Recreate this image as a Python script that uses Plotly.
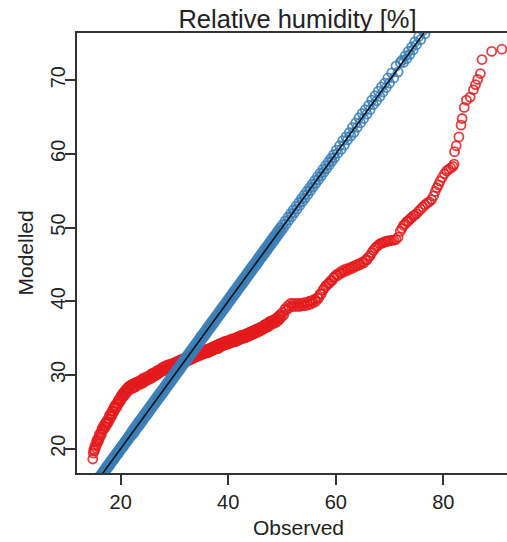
import plotly.graph_objects as go

# Observed quantiles (shared x of both QQ series)
observed = [
    14.8, 14.9, 15.0, 15.1, 15.2, 15.3, 15.5, 15.6, 15.7, 15.9,
    16.0, 16.1, 16.3, 16.4, 16.5, 16.7, 16.8, 16.9, 17.1, 17.2,
    17.3, 17.5, 17.6, 17.7, 17.9, 18.0, 18.1, 18.3, 18.4, 18.5,
    18.7, 18.8, 18.9, 19.1, 19.2, 19.3, 19.5, 19.6, 19.7, 19.9,
    20.0, 20.1, 20.3, 20.4, 20.5, 20.7, 20.8, 20.9, 21.1, 21.2,
    21.3, 21.5, 21.6, 21.7, 21.9,
    22.0, 22.2, 22.3, 22.5, 22.6, 22.8, 22.9, 23.1, 23.2, 23.4,
    23.5, 23.7, 23.8, 24.0, 24.1, 24.3, 24.4, 24.6, 24.7, 24.9,
    25.0, 25.2, 25.3, 25.5, 25.6, 25.8, 25.9, 26.1, 26.2, 26.4,
    26.5, 26.7, 26.8, 27.0, 27.1, 27.3, 27.4, 27.6, 27.7, 27.9,
    28.0, 28.2, 28.3, 28.5, 28.6, 28.8, 28.9, 29.1, 29.2, 29.4,
    29.5, 29.7, 29.8, 30.0, 30.1, 30.3, 30.4, 30.6, 30.7, 30.9,
    31.0, 31.2, 31.3, 31.5, 31.6, 31.8, 31.9, 32.1, 32.2, 32.4,
    32.5, 32.7, 32.8, 33.0, 33.1, 33.3, 33.4, 33.6, 33.7, 33.9,
    34.0, 34.2, 34.3, 34.5, 34.6, 34.8, 34.9,
    35.0, 35.2, 35.3, 35.5, 35.6, 35.8, 35.9, 36.1, 36.2, 36.4,
    36.5, 36.7, 36.8, 37.0, 37.1, 37.3, 37.4, 37.6, 37.7, 37.9,
    38.0, 38.2, 38.3, 38.5, 38.6, 38.8, 38.9, 39.1, 39.2, 39.4,
    39.5, 39.7, 39.8, 40.0, 40.1, 40.3, 40.4, 40.6, 40.7, 40.9,
    41.0, 41.2, 41.3, 41.5, 41.6, 41.8, 41.9, 42.1, 42.2, 42.4,
    42.5, 42.7, 42.8, 43.0, 43.1, 43.3, 43.4, 43.6, 43.7, 43.9,
    44.0, 44.2, 44.3, 44.5, 44.6, 44.8, 44.9, 45.1, 45.2, 45.4,
    45.5, 45.7, 45.8, 46.0, 46.1, 46.3, 46.4, 46.6, 46.7, 46.9,
    47.0, 47.2, 47.3, 47.5, 47.6, 47.8, 47.9, 48.1, 48.2, 48.4,
    48.5, 48.7, 48.8, 49.0, 49.1, 49.3, 49.4, 49.6, 49.7, 49.9,
    50.1, 50.3, 50.6, 50.8, 51.1, 51.3, 51.6, 51.8, 52.1, 52.3,
    52.6, 52.8, 53.1, 53.3, 53.6, 53.8, 54.1, 54.3, 54.6, 54.8,
    55.1, 55.3, 55.6, 55.8, 56.1, 56.3, 56.6, 56.8, 57.1, 57.3,
    57.6, 57.8, 58.1, 58.3, 58.6, 58.8, 59.1, 59.3, 59.6, 59.8,
    60.1, 60.4, 60.7, 61.0, 61.3, 61.6, 61.9, 62.2, 62.5, 62.8,
    63.1, 63.4, 63.7, 64.0, 64.3, 64.6, 64.9, 65.2, 65.5, 65.8,
    66.1, 66.4, 66.7, 67.0, 67.3, 67.6, 67.9, 68.2, 68.5, 68.8,
    69.1, 69.4, 69.7, 70.0, 70.4, 70.8, 71.2, 71.6, 72.0,
    72.3, 72.6, 72.9, 73.2, 73.5, 73.8, 74.1, 74.4, 74.7, 75.0,
    75.4, 75.8, 76.2, 76.6, 77.0, 77.4, 77.8, 78.2, 78.5, 78.8,
    79.1, 79.4, 79.8, 80.2, 80.6, 81.0, 81.4, 81.8,
    82.0, 82.1, 82.4, 82.9, 83.3, 83.5, 83.9, 84.3, 85.0, 85.6,
    86.0, 86.4, 86.9, 87.2, 89.0, 90.9,
]

# Raw model quantiles (red)
modelled_raw = [
    18.6, 19.4, 19.9, 19.7, 20.4, 20.1, 21.0, 20.6, 21.3, 21.1,
    21.9, 21.5, 22.2, 21.9, 22.7, 22.5, 23.1, 22.7, 23.4, 23.0,
    23.6, 23.4, 24.0, 23.6, 24.5, 24.0, 24.7, 24.4, 25.1, 24.7,
    25.5, 25.1, 25.8, 25.5, 26.1, 25.7, 26.5, 26.1, 26.7, 26.4,
    27.1, 26.7, 27.4, 27.0, 27.6, 27.2, 27.9, 27.5, 28.1, 27.7,
    28.3, 27.9, 28.5, 28.1, 28.6,
    28.7, 28.2, 28.8, 28.3, 28.9, 28.4, 29.0, 28.6, 29.1, 28.7,
    29.2, 28.8, 29.3, 28.9, 29.5, 29.0, 29.6, 29.2, 29.7, 29.3,
    29.8, 29.4, 29.9, 29.5, 30.1, 29.6, 30.2, 29.8, 30.3, 29.9,
    30.4, 30.0, 30.6, 30.2, 30.7, 30.3, 30.8, 30.5, 31.0, 30.6,
    31.1, 30.6, 31.2, 30.8, 31.3, 30.9, 31.4, 31.0, 31.4, 31.0,
    31.5, 31.1, 31.6, 31.2, 31.7, 31.3, 31.8, 31.4, 31.9, 31.5,
    32.0, 31.5, 32.1, 31.7, 32.2, 31.8, 32.2, 31.9, 32.3, 31.9,
    32.4, 32.0, 32.5, 32.1, 32.6, 32.2, 32.7, 32.3, 32.8, 32.4,
    32.9, 32.5, 33.0, 32.6, 33.1, 32.7, 33.2,
    33.2, 32.8, 33.3, 32.9, 33.4, 33.0, 33.4, 33.0, 33.5, 33.1,
    33.6, 33.2, 33.7, 33.3, 33.8, 33.4, 33.9, 33.5, 34.0, 33.6,
    34.1, 33.6, 34.2, 33.8, 34.3, 33.9, 34.4, 34.0, 34.5, 34.1,
    34.6, 34.2, 34.6, 34.2, 34.7, 34.3, 34.8, 34.4, 34.9, 34.5,
    34.9, 34.5, 35.0, 34.6, 35.1, 34.7, 35.2, 34.8, 35.3, 34.9,
    35.4, 35.0, 35.4, 35.0, 35.5, 35.1, 35.6, 35.2, 35.7, 35.3,
    35.8, 35.4, 35.9, 35.5, 36.0, 35.6, 36.1, 35.7, 36.2, 35.8,
    36.3, 35.9, 36.4, 36.0, 36.5, 36.1, 36.6, 36.3, 36.8, 36.4,
    36.9, 36.5, 37.0, 36.6, 37.2, 36.8, 37.3, 36.9, 37.4, 37.0,
    37.5, 37.1, 37.6, 37.2, 37.8, 37.4, 38.0, 37.6, 38.2, 37.9,
    38.5, 38.1, 39.0, 38.8, 39.4, 39.1, 39.7, 39.3, 39.7, 39.3,
    39.7, 39.3, 39.7, 39.3, 39.7, 39.4, 39.8, 39.4, 39.8, 39.5,
    40.0, 39.6, 40.1, 39.8, 40.3, 40.0, 40.5, 40.4, 41.0, 41.0,
    41.5, 41.7, 42.0, 42.2, 42.4, 42.5, 42.8, 42.8, 43.2, 43.3,
    43.6, 43.5, 43.9, 43.8, 44.2, 44.0, 44.4, 44.2, 44.5, 44.4,
    44.7, 44.6, 44.9, 44.8, 45.1, 45.0, 45.3, 45.2, 45.6, 45.6,
    46.0, 46.2, 46.6, 46.9, 47.2, 47.4, 47.6, 47.8, 47.9, 47.9,
    48.1, 48.1, 48.2, 48.2, 48.3, 48.3, 48.4, 48.7, 49.5,
    49.9, 50.3, 50.5, 50.8, 50.9, 51.2, 51.3, 51.6, 51.7, 51.9,
    52.2, 52.5, 52.8, 53.1, 53.3, 53.5, 53.8, 54.3, 54.9, 55.4,
    55.8, 56.3, 56.8, 57.3, 57.7, 57.9, 58.1, 58.3,
    58.6, 60.3, 61.1, 62.3, 63.9, 64.8, 66.3, 67.3, 67.7, 68.7,
    69.4, 70.1, 70.9, 72.8, 73.9, 74.2,
]

# Bias-corrected model quantiles (blue)
modelled_corrected = [
    14.5, 15.1, 14.8, 15.3, 15.0, 15.5, 15.3, 15.8, 15.5, 16.1,
    15.8, 16.3, 16.1, 16.6, 16.3, 16.9, 16.6, 17.1, 16.9, 17.4,
    17.1, 17.7, 17.4, 17.9, 17.7, 18.2, 17.9, 18.5, 18.2, 18.7,
    18.5, 19.0, 18.7, 19.3, 19.0, 19.5, 19.3, 19.8, 19.5, 20.1,
    19.8, 20.3, 20.1, 20.6, 20.3, 20.9, 20.6, 21.1, 20.9, 21.4,
    21.1, 21.7, 21.4, 21.9, 21.7,
    22.3, 21.9, 22.6, 22.2, 22.9, 22.5, 23.2, 22.8, 23.5, 23.1,
    23.8, 23.4, 24.1, 23.7, 24.4, 24.0, 24.7, 24.3, 25.0, 24.6,
    25.3, 24.9, 25.6, 25.2, 25.9, 25.5, 26.2, 25.8, 26.5, 26.1,
    26.8, 26.4, 27.1, 26.7, 27.4, 27.0, 27.7, 27.3, 28.0, 27.6,
    28.3, 27.9, 28.6, 28.2, 28.9, 28.5, 29.2, 28.8, 29.5, 29.1,
    29.8, 29.4, 30.1, 29.7, 30.4, 30.0, 30.7, 30.3, 31.0, 30.6,
    31.3, 30.9, 31.6, 31.2, 31.9, 31.5, 32.2, 31.8, 32.5, 32.1,
    32.8, 32.4, 33.1, 32.7, 33.4, 33.0, 33.7, 33.3, 34.0, 33.6,
    34.3, 33.9, 34.6, 34.2, 34.9, 34.5, 35.2,
    35.3, 34.9, 35.6, 35.2, 35.9, 35.5, 36.2, 35.8, 36.5, 36.1,
    36.8, 36.4, 37.1, 36.7, 37.4, 37.0, 37.7, 37.3, 38.0, 37.6,
    38.3, 37.9, 38.6, 38.2, 38.9, 38.5, 39.2, 38.8, 39.5, 39.1,
    39.8, 39.4, 40.1, 39.7, 40.4, 40.0, 40.7, 40.3, 41.0, 40.6,
    41.3, 40.9, 41.6, 41.2, 41.9, 41.5, 42.2, 41.8, 42.5, 42.1,
    42.8, 42.4, 43.1, 42.7, 43.4, 43.0, 43.7, 43.3, 44.0, 43.6,
    44.3, 43.9, 44.6, 44.2, 44.9, 44.5, 45.2, 44.8, 45.5, 45.1,
    45.8, 45.4, 46.1, 45.7, 46.4, 46.0, 46.7, 46.3, 47.0, 46.6,
    47.3, 46.9, 47.6, 47.2, 47.9, 47.5, 48.2, 47.8, 48.5, 48.1,
    48.8, 48.4, 49.1, 48.7, 49.4, 49.0, 49.7, 49.3, 50.0, 49.6,
    50.4, 50.0, 50.9, 50.5, 51.4, 51.0, 51.9, 51.5, 52.4, 52.0,
    52.9, 52.5, 53.4, 53.0, 53.9, 53.5, 54.4, 54.0, 54.9, 54.5,
    55.4, 55.0, 55.9, 55.5, 56.4, 56.0, 56.9, 56.5, 57.4, 57.0,
    57.9, 57.5, 58.4, 58.0, 58.9, 58.5, 59.4, 59.0, 59.9, 59.5,
    60.5, 60.1, 61.1, 60.6, 61.8, 61.2, 62.3, 61.9, 62.9, 62.4,
    63.6, 62.9, 64.2, 63.6, 64.9, 64.2, 65.5, 64.8, 66.0, 65.4,
    66.6, 66.0, 67.3, 66.7, 67.9, 67.2, 68.5, 67.8, 69.1, 68.4,
    69.6, 69.0, 70.3, 69.6, 71.0, 70.3, 71.9, 71.1, 72.4,
    72.7, 72.4, 73.3, 72.9, 73.9, 73.5, 74.5, 74.1, 75.2, 74.8,
    75.9, 75.5, 76.7, 76.3, 77.4, 77.1, 78.2, 77.9, 78.8, 78.6,
    79.4, 79.1, 80.2, 79.9, 80.9, 81.2, 81.6, 82.0,
    82.1, 82.3, 82.6, 83.1, 83.5, 83.6, 84.1, 84.5, 85.2, 85.7,
    86.1, 86.6, 87.0, 87.3, 89.2, 91.0,
]

one_to_one = [0, 100]
x_ticks = [20, 40, 60, 80]
y_ticks = [20, 30, 40, 50, 60, 70]

assert len(observed) == len(modelled_raw) == len(modelled_corrected), (
    len(observed), len(modelled_raw), len(modelled_corrected))

FONT = "Liberation Sans, Arial, Helvetica, sans-serif"
AX = "#333333"
TXT = "#222222"

fig = go.Figure()
fig.add_trace(go.Scatter(
    x=observed, y=modelled_raw, mode="markers",
    marker=dict(symbol="circle-open", size=9, color="rgba(228,26,28,0.85)",
                line=dict(width=1.8, color="rgba(228,26,28,0.85)")),
    showlegend=False, hoverinfo="skip"))
fig.add_trace(go.Scatter(
    x=observed, y=modelled_corrected, mode="markers",
    marker=dict(symbol="circle-open", size=9, color="rgba(55,126,184,0.85)",
                line=dict(width=1.8, color="rgba(55,126,184,0.85)")),
    showlegend=False, hoverinfo="skip"))
fig.add_trace(go.Scatter(
    x=one_to_one, y=one_to_one, mode="lines",
    line=dict(color="#111111", width=1.6),
    showlegend=False, hoverinfo="skip"))

fig.update_layout(
    width=507, height=542,
    margin=dict(l=77, r=0, t=33, b=69),
    paper_bgcolor="white", plot_bgcolor="white",
    font=dict(family=FONT, color=TXT),
    title=dict(text="Relative humidity [%]", font=dict(size=25.5, family=FONT, color=TXT),
               x=297.5 / 507, xanchor="center", xref="container",
               y=1 - 19.5 / 542, yanchor="middle", yref="container"),
)
fig.update_xaxes(
    range=[11.87, 91.85], tickvals=x_ticks, ticktext=[str(v) for v in x_ticks],
    showgrid=False, zeroline=False, showline=True, linecolor=AX, linewidth=1.5,
    mirror=True, ticks="outside", ticklen=10, tickwidth=1.5, tickcolor=AX,
    tickfont=dict(size=20, family=FONT, color=TXT), ticklabelstandoff=0,
)
fig.update_yaxes(
    range=[16.7, 76.4], tickvals=y_ticks, ticktext=[str(v) for v in y_ticks],
    showgrid=False, zeroline=False, showline=True, linecolor=AX, linewidth=1.5,
    mirror=False, ticks="outside", ticklen=10, tickwidth=1.5, tickcolor=AX,
    tickangle=-90, tickfont=dict(size=20, family=FONT, color=TXT), ticklabelstandoff=-8,
)
fig.add_annotation(text="Observed", x=(298.5 - 77) / 430, y=(473 - 527) / 440,
                   xref="paper", yref="paper", showarrow=False,
                   xanchor="center", yanchor="middle",
                   font=dict(size=21, family=FONT, color=TXT))
fig.add_annotation(text="Modelled", x=(24.5 - 77) / 430, y=0.5,
                   xref="paper", yref="paper", showarrow=False, textangle=-90,
                   xanchor="center", yanchor="middle",
                   font=dict(size=21, family=FONT, color=TXT))

fig.write_html("out.html")
